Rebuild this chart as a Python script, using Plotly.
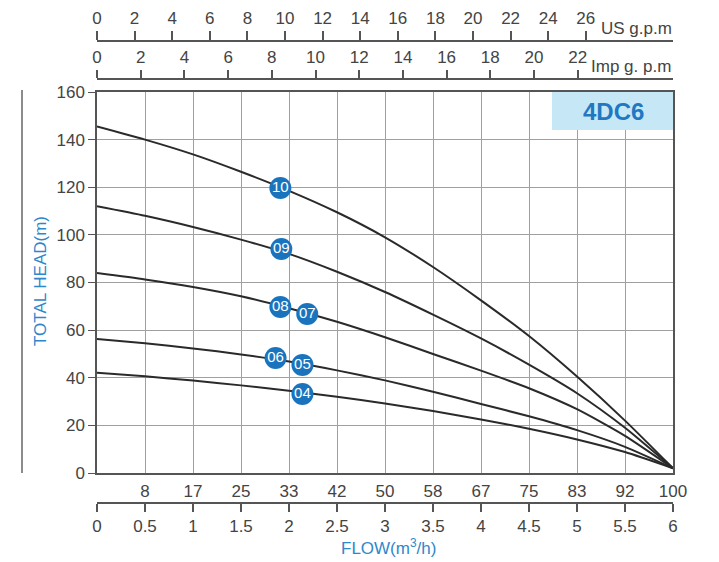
import plotly.graph_objects as go

# ---- data ----
flow = [0, 0.5, 1, 1.5, 2, 2.5, 3, 3.5, 4, 4.5, 5, 5.5, 6]
head_10 = [145.5, 140, 133.8, 126.5, 118.5, 109.5, 99, 86.5, 72.5, 57.5, 40.5, 22, 2]
head_09 = [112, 108, 103.3, 98, 92, 84.5, 76, 66.5, 56.5, 45.5, 33.5, 19, 2]
head_08 = [84, 81.3, 78.1, 74.2, 69.2, 63.5, 57.0, 50.0, 43.0, 35.6, 26.8, 15.6, 2]
head_06 = [56.3, 54.5, 52.3, 49.8, 46.8, 43.1, 38.9, 34.1, 29.0, 23.8, 18.0, 11.0, 2]
head_04 = [42.1, 40.6, 38.8, 36.8, 34.5, 32.0, 29.2, 26.0, 22.5, 18.6, 14.1, 8.8, 2]

label_text = ["10", "09", "08", "07", "06", "05", "04"]
label_flow = [1.91, 1.92, 1.91, 2.19, 1.86, 2.14, 2.14]
label_head = [119.7, 94.1, 69.7, 66.8, 48.3, 45.4, 33.2]

pct_ticks = [0.5, 1, 1.5, 2, 2.5, 3, 3.5, 4, 4.5, 5, 5.5, 6]
pct_labels = ["8", "17", "25", "33", "42", "50", "58", "67", "75", "83", "92", "100"]
m3h_labels = ["0", "0.5", "1", "1.5", "2", "2.5", "3", "3.5", "4", "4.5", "5", "5.5", "6"]
us_gpm_ticks = [0, 2, 4, 6, 8, 10, 12, 14, 16, 18, 20, 22, 24, 26]
imp_gpm_ticks = [0, 2, 4, 6, 8, 10, 12, 14, 16, 18, 20, 22]
us_gpm_max = 30.64
imp_gpm_max = 26.36
head_ticks = [0, 20, 40, 60, 80, 100, 120, 140, 160]

# ---- styling ----
FONT = "Liberation Sans, Arial, sans-serif"
TXT = "#444444"
BLUE = "#2f87cb"
GRID = "#a0a0a0"
AX = "#555555"

fig = go.Figure()
for h in [head_10, head_09, head_08, head_06, head_04]:
    fig.add_trace(go.Scatter(x=flow, y=h, mode="lines",
                             line=dict(color="#2a2a2a", width=2, shape="spline", smoothing=0.6),
                             hoverinfo="skip", showlegend=False))

fig.add_trace(go.Scatter(x=label_flow, y=label_head, mode="markers+text",
                         text=label_text, textposition="middle center",
                         textfont=dict(color="white", size=15, family=FONT),
                         marker=dict(color="#1a74bd", size=22, line=dict(width=0)),
                         showlegend=False, hoverinfo="skip"))

# invisible carriers so the secondary scales get drawn
for ax, xs in [("x2", us_gpm_ticks), ("x3", imp_gpm_ticks), ("x4", flow)]:
    fig.add_trace(go.Scatter(x=xs, y=[None] * len(xs), xaxis=ax, yaxis="y",
                             mode="markers", marker=dict(opacity=0),
                             hoverinfo="skip", showlegend=False))

ydom = [30 / 462, 411 / 462]

fig.update_layout(
    width=711, height=554,
    margin=dict(l=89, r=46, t=33, b=59, autoexpand=False),
    paper_bgcolor="white", plot_bgcolor="white",
    font=dict(family=FONT, size=17, color=TXT),
    showlegend=False,
    xaxis=dict(domain=[0, 1], range=[0, 6], anchor="y", automargin=False,
               tickvals=pct_ticks, ticktext=pct_labels,
               ticks="outside", ticklen=2, tickcolor="rgba(0,0,0,0)",
               showgrid=True, gridcolor=GRID, gridwidth=1,
               showline=True, linecolor=AX, linewidth=1.5, mirror=True,
               zeroline=False, tickfont=dict(size=17, color=TXT)),
    yaxis=dict(domain=ydom, range=[0, 160], tickvals=head_ticks, automargin=False,
               ticks="outside", ticklen=7, tickcolor=AX,
               showgrid=True, gridcolor=GRID, gridwidth=1,
               showline=True, linecolor=AX, linewidth=1.5, mirror=True,
               zeroline=False, tickfont=dict(size=17, color=TXT)),
    xaxis2=dict(overlaying="x", anchor="free", position=1.0, side="top", automargin=False,
                range=[0, us_gpm_max], tickvals=us_gpm_ticks,
                ticks="outside", ticklen=9, tickcolor=AX, tickwidth=1.5,
                showline=True, linecolor=AX, linewidth=2, showgrid=False,
                zeroline=False, tickfont=dict(size=17, color=TXT)),
    xaxis3=dict(overlaying="x", anchor="free", position=(503 - 79) / 462, side="top",
                automargin=False,
                range=[0, imp_gpm_max], tickvals=imp_gpm_ticks,
                ticks="outside", ticklen=8, tickcolor=AX, tickwidth=1.5,
                showline=True, linecolor=AX, linewidth=2, showgrid=False,
                zeroline=False, tickfont=dict(size=17, color=TXT)),
    xaxis4=dict(overlaying="x", anchor="free", position=0, side="bottom", automargin=False,
                range=[0, 6], tickvals=flow, ticktext=m3h_labels,
                ticks="outside", ticklen=8, tickcolor=AX, tickwidth=1.5,
                showline=True, linecolor=AX, linewidth=2, showgrid=False,
                zeroline=False, tickfont=dict(size=17, color=TXT)),
)

# model box
fig.add_shape(type="rect", xref="paper", yref="paper",
              x0=(552 - 97) / 576, x1=1.0, y0=(503 - 130) / 462, y1=ydom[1],
              fillcolor="#c6e7f6", line=dict(width=0), layer="above")
fig.add_annotation(text="<b>4DC6</b>", xref="paper", yref="paper",
                   x=(613 - 97) / 576, y=(503 - 112) / 462, showarrow=False,
                   xanchor="center", yanchor="middle",
                   font=dict(size=24, color="#1f78c1", family=FONT))

# left vertical rule
fig.add_shape(type="line", xref="paper", yref="paper",
              x0=(22 - 97) / 576, x1=(22 - 97) / 576,
              y0=(503 - 473) / 462, y1=(503 - 90) / 462,
              line=dict(color="#666666", width=1.5))

# titles
fig.add_annotation(text="TOTAL HEAD(m)", xref="paper", yref="paper",
                   x=(40 - 97) / 576, y=(503 - 281) / 462, textangle=-90,
                   xanchor="center", yanchor="middle",
                   showarrow=False, font=dict(size=17, color=BLUE, family=FONT))
fig.add_annotation(text="FLOW(m<sup>3</sup>/h)", xref="paper", yref="paper",
                   x=(388 - 97) / 576, y=(503 - 547) / 462, showarrow=False,
                   xanchor="center", yanchor="middle",
                   font=dict(size=17, color=BLUE, family=FONT))
fig.add_annotation(text="US g.p.m", xref="paper", yref="paper",
                   x=(599 - 97) / 576, y=(503 - 29) / 462, xanchor="left", yanchor="middle",
                   showarrow=False, font=dict(size=17, color=TXT, family=FONT))
fig.add_annotation(text="Imp g. p.m", xref="paper", yref="paper",
                   x=(589 - 97) / 576, y=(503 - 67) / 462, xanchor="left", yanchor="middle",
                   showarrow=False, font=dict(size=17, color=TXT, family=FONT))

fig.write_html("out.html")
